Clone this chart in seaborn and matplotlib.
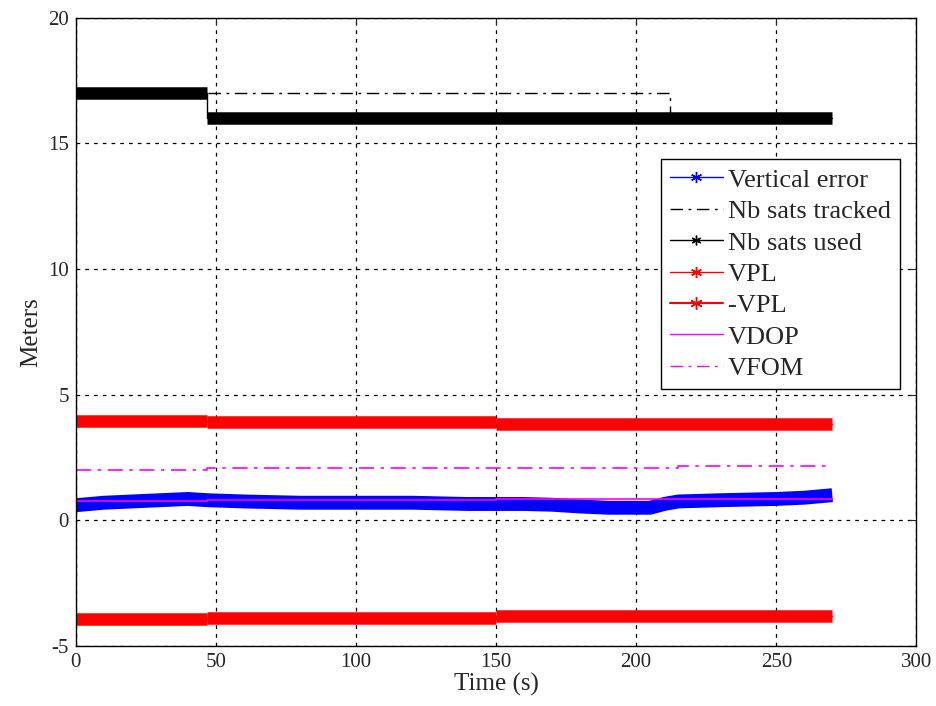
import numpy as np
import matplotlib as mpl
_ = mpl.use('Agg')
import matplotlib.pyplot as plt
import seaborn as sns
from matplotlib.lines import Line2D

# values (time in seconds)
err_t = [0, 10, 20, 30, 40, 47, 60, 80, 100, 120, 140, 150, 160, 170, 180, 190, 200, 205, 210, 215, 230, 250, 260, 270]
err_v = [0.6, 0.7, 0.75, 0.8, 0.85, 0.8, 0.75, 0.7, 0.7, 0.7, 0.65, 0.65, 0.65, 0.62, 0.55, 0.5, 0.5, 0.5, 0.65, 0.75, 0.8, 0.85, 0.9, 1.0]

trk_t = [0, 212, 270]
trk_v = [17, 16, 16]

used_t = [0, 47, 270]
used_v = [17, 16, 16]

vpl_t = [0, 47, 150, 270]
vpl_v = [3.95, 3.9, 3.85, 3.85]
nvpl_v = [-3.92, -3.88, -3.8, -3.8]

vdop_t = [0, 47, 150, 270]
vdop_v = [0.76, 0.81, 0.83, 0.86]

vfom_t = [0, 47, 215, 270]
vfom_v = [2.02, 2.08, 2.16, 2.16]

DASHDOT = (0, (9, 4, 2, 4))
STAR = (6, 2, 0)


def thick_steps(ax, t, v, color, lw):
    # thin connector for the jumps, thick band for every level
    sns.lineplot(x=t, y=v, ax=ax, color=color, lw=1, drawstyle='steps-post')
    for i in range(len(t) - 1):
        sns.lineplot(x=[t[i], t[i + 1]], y=[v[i], v[i]], ax=ax, color=color, lw=lw,
                     solid_capstyle='butt')


sns.set_style('white')
plt.rcParams['font.family'] = ['Liberation Serif', 'DejaVu Serif']
plt.rcParams['axes.unicode_minus'] = False
plt.rcParams['xtick.direction'] = 'in'
plt.rcParams['ytick.direction'] = 'in'

fig = plt.figure(figsize=(9.36, 7.06), dpi=100)
ax = fig.add_axes([0.081, 0.085, 0.898, 0.89])

thick_steps(ax, vpl_t, vpl_v, '#ff0000', 9)
thick_steps(ax, vpl_t, nvpl_v, '#ff0000', 9)
sns.lineplot(x=trk_t, y=trk_v, ax=ax, color='k', lw=1, drawstyle='steps-post')
ax.lines[-1].set_linestyle(DASHDOT)
thick_steps(ax, used_t, used_v, 'k', 9)
sns.lineplot(x=err_t, y=err_v, ax=ax, color='#0000ff', lw=10, solid_capstyle='butt')
sns.lineplot(x=vdop_t, y=vdop_v, ax=ax, color='#ff00ff', lw=1.2, drawstyle='steps-post')
sns.lineplot(x=vfom_t, y=vfom_v, ax=ax, color='#ff00ff', lw=1.2, drawstyle='steps-post')
ax.lines[-1].set_linestyle(DASHDOT)

ax.set_xlim(0, 300)
ax.set_ylim(-5, 20)
ax.set_xticks(np.arange(0, 301, 50))
ax.set_yticks(np.arange(-5, 21, 5))
ax.tick_params(labelsize=15, top=True, right=True, length=5, width=0.8, pad=5)
ax.grid(True, color='k', linestyle=(0, (3, 4)), lw=0.9)
for s in ax.spines.values():
    s.set_color('k')
    s.set_linewidth(1)
ax.set_xlabel('Time (s)', fontsize=18, labelpad=1)
ax.set_ylabel('Meters', fontsize=18, labelpad=4)

handles = [
    Line2D([], [], color='#0000ff', lw=1, marker=STAR, markersize=8),
    Line2D([], [], color='k', lw=1, linestyle=DASHDOT),
    Line2D([], [], color='k', lw=1, marker=STAR, markersize=7),
    Line2D([], [], color='#ff0000', lw=1, marker=STAR, markersize=8),
    Line2D([], [], color='#ff0000', lw=1.5, marker=STAR, markersize=9),
    Line2D([], [], color='#ff00ff', lw=1),
    Line2D([], [], color='#ff00ff', lw=1, linestyle=DASHDOT),
]
labels = ['Vertical error', 'Nb sats tracked', 'Nb sats used', 'VPL', '-VPL', 'VDOP', 'VFOM']
leg = ax.legend(handles, labels, loc='upper right', bbox_to_anchor=(0.981, 0.775), fontsize=19,
                frameon=True, fancybox=False, framealpha=1, edgecolor='k', handlelength=2.0,
                handletextpad=0.2, labelspacing=0.3, borderpad=0.35, borderaxespad=0)
leg.get_frame().set_linewidth(1)

plt.savefig('out.png', dpi=100)
